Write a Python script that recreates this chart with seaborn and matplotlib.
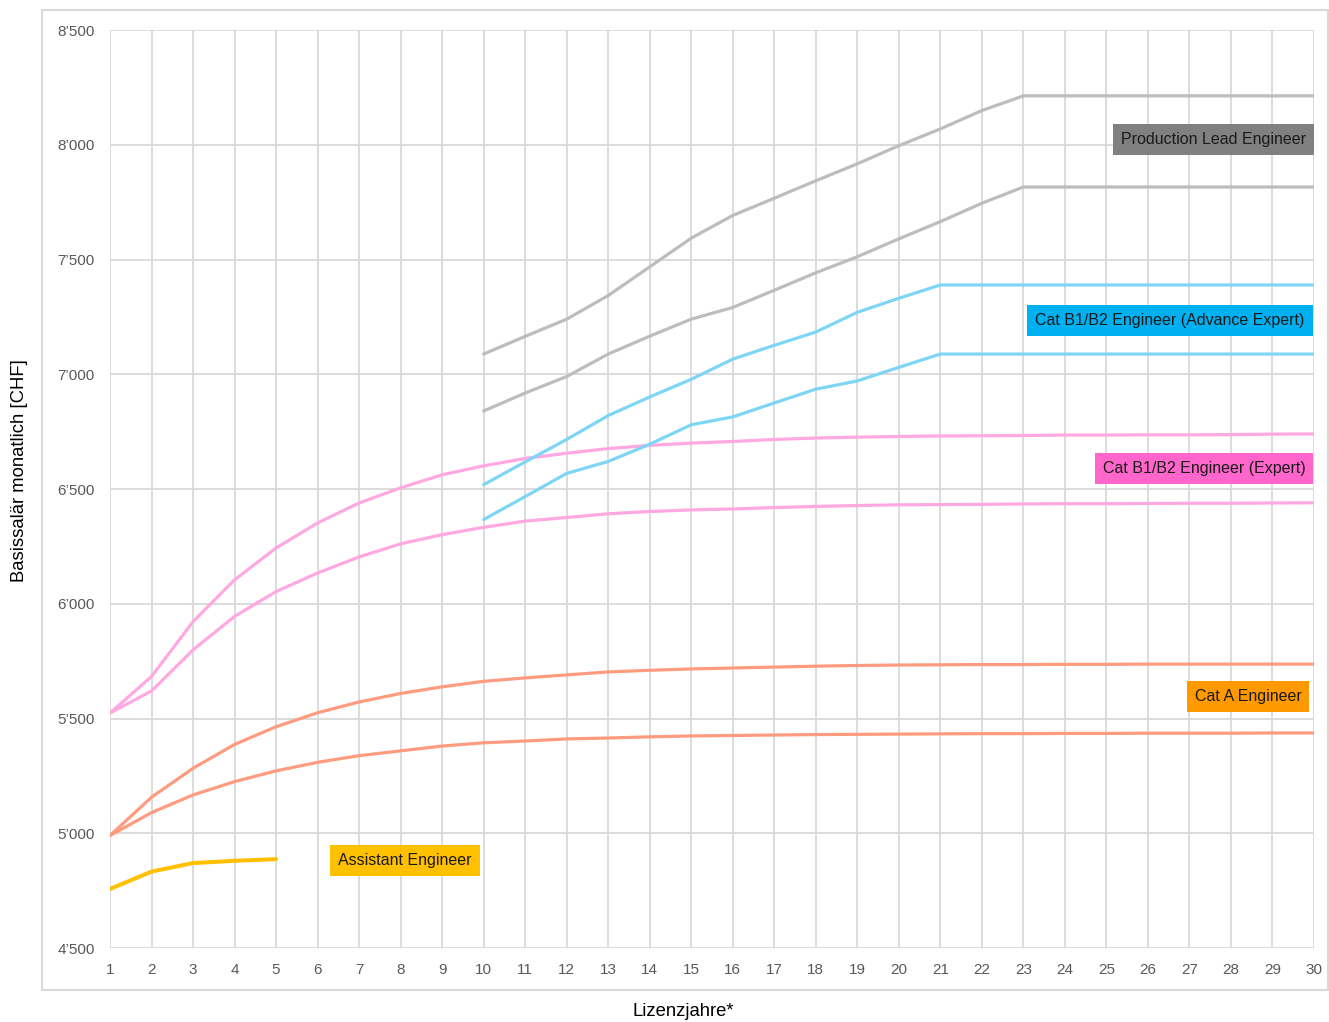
import numpy as np
import pandas as pd
import matplotlib
matplotlib.use("Agg")
import matplotlib.pyplot as plt
import matplotlib.ticker as mticker
from matplotlib.patches import Rectangle
import seaborn as sns

# ---------------- data ----------------
years_all = list(range(1, 31))
years_from10 = list(range(10, 31))
years_assist = list(range(1, 6))

prod_high = [7088, 7165, 7240, 7343, 7468, 7593, 7692, 7767, 7843, 7917, 7996, 8069, 8149,
             8213, 8213, 8213, 8213, 8213, 8213, 8213, 8213]
prod_low = [6840, 6918, 6990, 7088, 7166, 7240, 7291, 7366, 7442, 7512, 7590, 7665, 7745,
            7816, 7816, 7816, 7816, 7816, 7816, 7816, 7816]
adv_high = [6519, 6618, 6716, 6820, 6901, 6978, 7066, 7126, 7184, 7270, 7331, 7389,
            7389, 7389, 7389, 7389, 7389, 7389, 7389, 7389, 7389]
adv_low = [6367, 6467, 6568, 6620, 6695, 6780, 6814, 6875, 6935, 6971, 7030, 7088,
           7088, 7088, 7088, 7088, 7088, 7088, 7088, 7088, 7088]
exp_high = [5524, 5683, 5922, 6104, 6243, 6352, 6439, 6505, 6562, 6601, 6633, 6656, 6676, 6690,
            6700, 6707, 6716, 6722, 6726, 6729, 6731, 6732, 6733, 6735, 6735, 6736, 6736, 6737,
            6739, 6740]
exp_low = [5524, 5620, 5799, 5945, 6053, 6134, 6204, 6261, 6301, 6333, 6360, 6376, 6392, 6402,
           6409, 6413, 6419, 6424, 6428, 6431, 6432, 6433, 6435, 6436, 6436, 6437, 6438, 6438,
           6439, 6440]
cata_high = [4990, 5157, 5283, 5387, 5464, 5525, 5572, 5609, 5638, 5662, 5677, 5690, 5703, 5710,
             5716, 5720, 5724, 5728, 5731, 5733, 5734, 5735, 5735, 5736, 5736, 5737, 5737, 5737,
             5737, 5737]
cata_low = [4990, 5090, 5167, 5225, 5272, 5309, 5338, 5359, 5380, 5394, 5402, 5411, 5415, 5420,
            5424, 5426, 5428, 5430, 5431, 5432, 5433, 5434, 5434, 5435, 5435, 5436, 5436, 5436,
            5437, 5437]
assistant = [4757, 4833, 4870, 4880, 4887]

label_names = ["Production Lead Engineer", "Cat B1/B2 Engineer (Advance Expert)",
               "Cat B1/B2 Engineer (Expert)", "Cat A Engineer", "Assistant Engineer"]

# ---------------- long table ----------------
series = [
    ("cata_high", years_all, cata_high, "#FF9B7F"),
    ("cata_low", years_all, cata_low, "#FF9B7F"),
    ("exp_high", years_all, exp_high, "#FFA8E2"),
    ("exp_low", years_all, exp_low, "#FFA8E2"),
    ("adv_high", years_from10, adv_high, "#7FD5F6"),
    ("adv_low", years_from10, adv_low, "#7FD5F6"),
    ("prod_high", years_from10, prod_high, "#BDBDBD"),
    ("prod_low", years_from10, prod_low, "#BDBDBD"),
    ("assistant", years_assist, assistant, "#FFC000"),
]
rows = []
for name, xs, ys, _ in series:
    for x, y in zip(xs, ys):
        rows.append({"series": name, "year": x, "salary": y})
df = pd.DataFrame(rows)
palette = {name: c for name, _, _, c in series}

# ---------------- figure ----------------
sns.set_theme(style="white")
plt.rcParams["font.family"] = ["Liberation Sans", "DejaVu Sans"]

W, H = 1329, 1022
fig = plt.figure(figsize=(W / 100, H / 100), dpi=100)
ax = fig.add_axes([110 / W, 1 - 948 / H, (1314 - 110) / W, (948 - 30) / H])

sns.lineplot(data=df, x="year", y="salary", hue="series", palette=palette,
             hue_order=[s[0] for s in series], linewidth=2.3, legend=False, ax=ax,
             estimator=None, sort=True)
ax.get_lines()[-1].set_linewidth(2.9)
for ln in ax.get_lines():
    ln.set_solid_capstyle("round")
    ln.set_solid_joinstyle("round")

ax.set_xlim(1, 30)
ax.set_ylim(4500, 8500)
ax.set_xticks(years_all)
ax.set_yticks(np.arange(4500, 8501, 500))
ax.yaxis.set_major_formatter(mticker.FuncFormatter(lambda v, p: f"{int(v):,}".replace(",", "\u2019")))
ax.grid(True, color="#D9D9D9", linewidth=1.3)
ax.set_axisbelow(True)
for s in ax.spines.values():
    s.set_visible(False)
ax.tick_params(axis="both", length=0, labelsize=11, labelcolor="#595959")
ax.tick_params(axis="x", pad=11)
ax.tick_params(axis="y", pad=11)
ax.set_xlabel("")
ax.set_ylabel("")

fig.text(20 / W, 1 - 471 / H, "Basissal\u00e4r monatlich [CHF]", rotation=90,
         ha="center", va="center", fontsize=13.3, color="black")
fig.text(683 / W, 1 - 1012 / H, "Lizenzjahre*", ha="center", va="center",
         fontsize=13.3, color="black")

# chart-area border
fig.patches.append(Rectangle((42 / W, 1 - 990 / H), (1328 - 42) / W, (990 - 10) / H,
                             transform=fig.transFigure, fill=False,
                             edgecolor="#D9D9D9", linewidth=1.5))

# labels
label_specs = [
    (27.59, 8021, "#808080"),
    (26.53, 7236, "#00B0F0"),
    (27.35, 6591, "#FF66CC"),
    (28.41, 5594, "#FF9900"),
    (8.10, 4883, "#FFC000"),
]
for text, (x, y, c) in zip(label_names, label_specs):
    ax.text(x, y, text, ha="center", va="center", fontsize=11.5, color="#1a1a1a",
            bbox=dict(boxstyle="square,pad=0.5", facecolor=c, edgecolor="none"))

fig.savefig("out.png", dpi=100, facecolor="white")
